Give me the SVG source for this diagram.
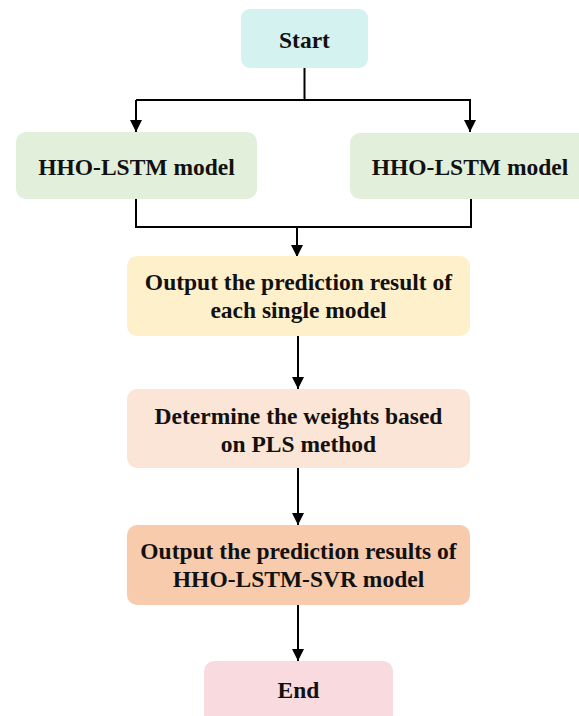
<svg xmlns="http://www.w3.org/2000/svg" width="579" height="716" viewBox="0 0 579 716">
<style>
.t{font-family:"Liberation Serif","Times New Roman",serif;font-weight:bold;font-size:23.5px;fill:#111;text-anchor:middle}
.c{stroke:#000;stroke-width:2;fill:none}
</style>
<defs>
<marker id="ah" viewBox="0 0 10 10" refX="10" refY="5" markerWidth="6" markerHeight="6" markerUnits="strokeWidth" orient="auto">
<path d="M0,0 L10,5 L0,10 z" fill="#000"/>
</marker>
</defs>
<rect width="579" height="716" fill="#fff"/>
<g id="connectors">
<path class="c" d="M304.5,68 V100 M136,100 H471"/>
<path class="c" d="M136,100 V132" marker-end="url(#ah)"/>
<path class="c" d="M470,100 V132" marker-end="url(#ah)"/>
<path class="c" d="M136,199 V227 H471 V199"/>
<path class="c" d="M297,227 V257" marker-end="url(#ah)"/>
<path class="c" d="M298,336 V389" marker-end="url(#ah)"/>
<path class="c" d="M298,468 V525" marker-end="url(#ah)"/>
<path class="c" d="M298,605 V661" marker-end="url(#ah)"/>
</g>
<g id="start">
<rect x="241" y="9" width="127" height="59" rx="9" fill="#d4f2ef"/>
<text class="t" x="304.5" y="48">Start</text>
</g>
<g id="hho1">
<rect x="16" y="132" width="241" height="67" rx="10" fill="#e2efda"/>
<text class="t" x="136.5" y="175">HHO-LSTM model</text>
</g>
<g id="hho2">
<rect x="350" y="133" width="240" height="66" rx="10" fill="#e2efda"/>
<text class="t" x="470" y="175">HHO-LSTM model</text>
</g>
<g id="output1">
<rect x="127" y="256" width="343" height="80" rx="10" fill="#fff0cc"/>
<text class="t" x="298.5" y="290">Output the prediction result of</text>
<text class="t" x="298.5" y="318">each single model</text>
</g>
<g id="weights">
<rect x="127" y="389" width="343" height="79" rx="10" fill="#fbe5d6"/>
<text class="t" x="298.5" y="424">Determine the weights based</text>
<text class="t" x="298.5" y="452">on PLS method</text>
</g>
<g id="output2">
<rect x="127" y="525" width="343" height="80" rx="10" fill="#f8cbad"/>
<text class="t" x="298.5" y="559">Output the prediction results of</text>
<text class="t" x="298.5" y="587">HHO-LSTM-SVR model</text>
</g>
<g id="end">
<rect x="204" y="661" width="189" height="70" rx="10" fill="#f9dadf"/>
<text class="t" x="298.5" y="698">End</text>
</g>
</svg>
